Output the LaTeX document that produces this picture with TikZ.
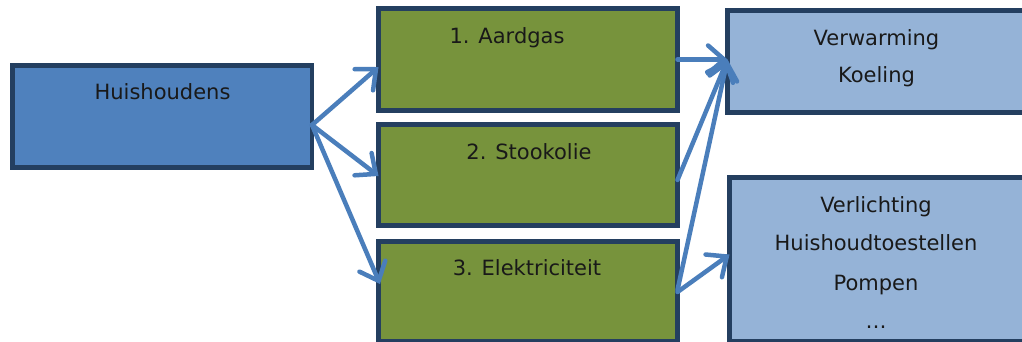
\documentclass[tikz,border=0pt]{standalone}
\usepackage{fontspec}
\setmainfont{DejaVu Sans}
\usetikzlibrary{arrows.meta}
\definecolor{navy}{HTML}{243F60}
\definecolor{hblue}{HTML}{4F81BD}
\definecolor{olive}{HTML}{77933C}
\definecolor{lblue}{HTML}{95B3D7}
\definecolor{arrowblue}{HTML}{4A7EBB}
\begin{document}
\begin{tikzpicture}[x=1pt,y=-1pt,
  box/.style={draw=navy, line width=4.5pt, inner sep=0pt, outer sep=0pt, rectangle},
  lbl/.style={anchor=base, font=\fontsize{21}{25}\selectfont, inner sep=0pt, text=black!90},
  conn/.style={draw=arrowblue, line width=4.5pt, line cap=round, -{Straight Barb[length=16pt,width=28pt,line cap=round]}}]
\useasboundingbox (0,0) rectangle (1022,341);
\clip (0,0) rectangle (1022,341);
% boxes
\node[box, fill=hblue, minimum width=299.5pt, minimum height=102pt] (h) at (162.25,116.5) {};
\node[box, fill=olive, minimum width=299pt, minimum height=102pt] (g1) at (528,59.5) {};
\node[box, fill=olive, minimum width=299pt, minimum height=101pt] (g2) at (528,175) {};
\node[box, fill=olive, minimum width=299pt, minimum height=100pt] (g3) at (528,291.5) {};
\node[box, fill=lblue, minimum width=322.5pt, minimum height=102pt] (l1) at (888.75,61.5) {};
\node[box, fill=lblue, minimum width=322pt, minimum height=164pt] (l2) at (890.5,259.5) {};
% labels
\node[lbl] (th) at (162.5,99) {Huishoudens};
\node[lbl] (tg1) at (507,43) {1. Aardgas};
\node[lbl] (tg2) at (529,159) {2. Stookolie};
\node[lbl] (tg3) at (527,275) {3. Elektriciteit};
\node[lbl] (tl1a) at (876.5,45) {Verwarming};
\node[lbl] (tl1b) at (876.5,82) {Koeling};
\node[lbl] (tl2a) at (876,212) {Verlichting};
\node[lbl] (tl2b) at (876,250) {Huishoudtoestellen};
\node[lbl] (tl2c) at (876,290) {Pompen};
\node[lbl] (tl2d) at (876,328) {…};
% connectors
\coordinate (hs) at ([yshift=-8.5pt]h.east);
\coordinate (t1) at ([yshift=2pt]l1.west);
\draw[conn] (hs) -- ([yshift=-7.5pt]g1.west);
\draw[conn] (hs) -- ([yshift=-1pt]g2.west);
\draw[conn] (hs) -- ([xshift=1.5pt,yshift=7.5pt]g3.west);
\draw[conn] (g1.east) -- (t1);
\draw[conn] ([yshift=-5pt]g2.east) -- (t1);
\draw[conn] ([yshift=1.5pt]g3.east) -- (t1);
\draw[conn] ([yshift=-0.5pt]g3.east) -- ([yshift=5pt]l2.west);
\end{tikzpicture}
\end{document}
